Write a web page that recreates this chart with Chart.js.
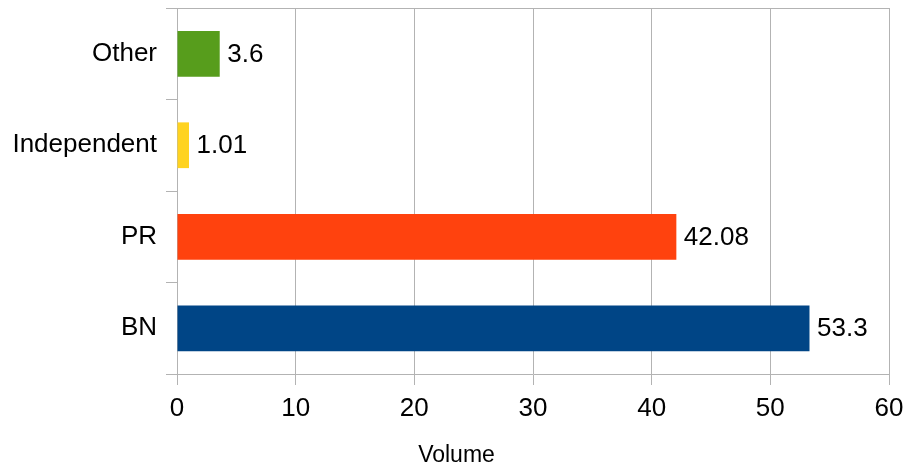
<!DOCTYPE html>
<html><head><meta charset="utf-8">
<script src="https://cdn.jsdelivr.net/npm/chart.js@4/dist/chart.umd.min.js"></script>
<style>html,body{margin:0;padding:0;background:#fff}#wrap{width:907px;height:465px}</style>
</head><body><div id="wrap"><canvas id="c" width="907" height="465"></canvas></div>
<script>
const categories = ["Other", "Independent", "PR", "BN"];
const values = [3.6, 1.01, 42.08, 53.3];
const valueLabels = ["3.6", "1.01", "42.08", "53.3"];
const barColors = ["#579d1c", "#ffd320", "#ff420e", "#004586"];
const xTicks = [0, 10, 20, 30, 40, 50, 60];
const xTitle = "Volume";

const FONT = "'Liberation Sans', Arial, sans-serif";
const GRID = "#b3b3b3";

const labelPlugin = {
  id: 'vals',
  afterDatasetsDraw(chart) {
    const ctx = chart.ctx;
    const meta = chart.getDatasetMeta(0);
    ctx.save();
    ctx.font = "26px " + FONT;
    ctx.fillStyle = "#000";
    ctx.textBaseline = "middle";
    ctx.textAlign = "left";
    meta.data.forEach((bar, i) => {
      ctx.fillText(valueLabels[i], bar.x + 7.5, bar.y + 1);
    });
    ctx.restore();
  }
};

const titlePlugin = {
  id: 'xtitle',
  afterDraw(chart) {
    const ctx = chart.ctx;
    ctx.save();
    ctx.font = "23px " + FONT;
    ctx.fillStyle = "#000";
    ctx.textAlign = "center";
    ctx.textBaseline = "alphabetic";
    ctx.fillText(xTitle, chart.width / 2 + 3, 462);
    ctx.restore();
  }
};

new Chart(document.getElementById('c'), {
  type: 'bar',
  data: {
    labels: categories,
    datasets: [{
      data: values,
      backgroundColor: barColors,
      borderWidth: 0,
      barPercentage: 0.5,
      categoryPercentage: 1.0
    }]
  },
  options: {
    indexAxis: 'y',
    responsive: false,
    animation: false,
    devicePixelRatio: 1,
    layout: { padding: { top: 8, right: 18, left: 0, bottom: 0 } },
    plugins: { legend: { display: false }, tooltip: { enabled: false } },
    scales: {
      x: {
        min: 0, max: 60,
        afterBuildTicks(axis) { axis.ticks = xTicks.map(v => ({ value: v })); },
        afterFit(axis) { axis.height = 91; axis.paddingLeft = 0; axis.paddingRight = 0; },
        grid: { color: GRID, lineWidth: 1, tickLength: 11, tickColor: GRID },
        border: { color: GRID, width: 1 },
        ticks: { color: "#000", font: { family: FONT, size: 26 }, padding: 8, maxRotation: 0 },
        title: { display: false }
      },
      y: {
        afterFit(axis) { axis.width = 177; axis.paddingTop = 0; axis.paddingBottom = 0; },
        grid: {
          offset: true,
          tickLength: 11,
          tickColor: GRID,
          color: (c) => (c.index === 0 || c.index === categories.length) ? GRID : 'rgba(0,0,0,0)'
        },
        border: { color: GRID, width: 1 },
        ticks: { color: "#000", font: { family: FONT, size: 26 }, padding: 9 }
      }
    }
  },
  plugins: [labelPlugin, titlePlugin]
});
</script>
</body></html>
